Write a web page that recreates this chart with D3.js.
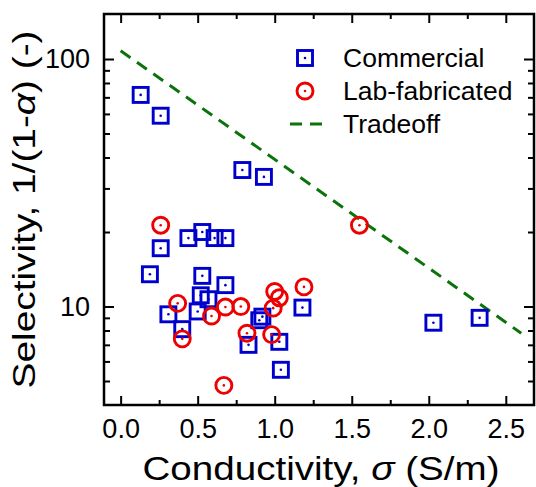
<!DOCTYPE html>
<html>
<head>
<meta charset="utf-8">
<script src="https://cdn.jsdelivr.net/npm/d3@7"></script>
<style>
  body { margin: 0; background: #fff; }
  text { font-family: "Liberation Sans", Arial, sans-serif; fill: #000; }
</style>
</head>
<body>
<div id="chart"></div>
<script>
const width = 536;
const height = 487;
const margin = { top: 14, right: 2, bottom: 82, left: 104 };

// commercial membranes
const commercialX = [0.13, 0.26, 0.79, 0.93, 0.26, 0.19, 0.44, 0.53, 0.61, 0.68, 0.53, 0.68, 0.52, 0.57, 0.50, 0.31, 0.40, 0.90, 0.92, 0.83, 1.03, 1.04, 1.18, 2.03, 2.33];
const commercialY = [71.6, 59.0, 35.6, 33.4, 17.2, 13.5, 18.9, 20.0, 18.9, 18.9, 13.3, 12.2, 11.1, 10.7, 9.55, 9.3, 8.1, 8.8, 9.1, 7.0, 7.2, 5.55, 9.9, 8.6, 9.0];

// lab-fabricated membranes
const labX = [0.26, 0.37, 0.40, 0.59, 0.68, 0.78, 0.82, 0.98, 1.00, 1.03, 0.99, 1.19, 0.67, 1.55];
const labY = [21.3, 10.3, 7.4, 9.15, 9.95, 10.0, 7.8, 7.7, 11.5, 10.85, 9.85, 12.0, 4.8, 21.3];

// tradeoff line (two end points, straight on the log axis)
const tradeoffX = [0, 2.6];
const tradeoffY = [108, 7.8];

const xTicks = [0, 0.5, 1.0, 1.5, 2.0, 2.5];
const yTicks = [10, 100];

const blue = "#0000cc";
const red = "#ee0000";
const green = "#0a730a";

const svg = d3.select("#chart")
    .append("svg")
    .attr("width", width)
    .attr("height", height);

const x = d3.scaleLinear()
    .domain([-0.108, 2.683])
    .range([margin.left, width - margin.right]);

const y = d3.scaleLog()
    .domain([4, 152])
    .range([height - margin.bottom, margin.top]);

const x0 = margin.left, x1 = width - margin.right;
const y0 = height - margin.bottom, y1 = margin.top;

// minor ticks
const xMinor = d3.range(0, 2.7, 0.25).filter(v => xTicks.every(t => Math.abs(t - v) > 1e-6));
const yMinor = [5, 6, 7, 8, 9, 20, 30, 40, 50, 60, 70, 80, 90];

// axes, ticks pointing inward on all four sides
const bottomAxis = d3.axisBottom(x).tickValues(xTicks).tickSize(-9).tickPadding(14)
    .tickFormat(d3.format(".1f"));
const topAxis = d3.axisTop(x).tickValues(xTicks).tickSize(-9).tickFormat("");
const leftAxis = d3.axisLeft(y).tickValues(yTicks).tickSize(-10).tickPadding(14)
    .tickFormat(d3.format("d"));
const rightAxis = d3.axisRight(y).tickValues(yTicks).tickSize(-10).tickFormat("");

svg.append("g").attr("transform", `translate(0,${y0})`).call(bottomAxis);
svg.append("g").attr("transform", `translate(0,${y1})`).call(topAxis);
svg.append("g").attr("transform", `translate(${x0},0)`).call(leftAxis);
svg.append("g").attr("transform", `translate(${x1},0)`).call(rightAxis);

svg.append("g").attr("transform", `translate(0,${y0})`)
    .call(d3.axisBottom(x).tickValues(xMinor).tickSize(-5).tickFormat(""));
svg.append("g").attr("transform", `translate(0,${y1})`)
    .call(d3.axisTop(x).tickValues(xMinor).tickSize(-5).tickFormat(""));
svg.append("g").attr("transform", `translate(${x0},0)`)
    .call(d3.axisLeft(y).tickValues(yMinor).tickSize(-6).tickFormat(""));
svg.append("g").attr("transform", `translate(${x1},0)`)
    .call(d3.axisRight(y).tickValues(yMinor).tickSize(-6).tickFormat(""));

svg.selectAll(".domain").remove();
svg.selectAll(".tick line").attr("stroke", "#000").attr("stroke-width", 2);
svg.selectAll(".tick text")
    .style("font-size", "27px")
    .attr("fill", "#000");

// frame
svg.append("rect")
    .attr("x", x0).attr("y", y1)
    .attr("width", x1 - x0).attr("height", y0 - y1)
    .attr("fill", "none").attr("stroke", "#000").attr("stroke-width", 2.5);

// tradeoff line
const line = d3.line().x(d => x(d[0])).y(d => y(d[1]));
svg.append("path")
    .datum(d3.zip(tradeoffX, tradeoffY))
    .attr("d", line)
    .attr("fill", "none")
    .attr("stroke", green)
    .attr("stroke-width", 3)
    .attr("stroke-dasharray", "12,8");

// markers
const sq = 15;
const sw = 2.9;
const commercial = d3.zip(commercialX, commercialY);
const lab = d3.zip(labX, labY);

const gc = svg.append("g");
gc.selectAll("rect").data(commercial).enter().append("rect")
    .attr("x", d => x(d[0]) - sq / 2)
    .attr("y", d => y(d[1]) - sq / 2)
    .attr("width", sq).attr("height", sq)
    .attr("fill", "none").attr("stroke", blue).attr("stroke-width", sw);
gc.selectAll("circle").data(commercial).enter().append("circle")
    .attr("cx", d => x(d[0])).attr("cy", d => y(d[1]))
    .attr("r", 1.3).attr("fill", blue);

const gLab = svg.append("g");
gLab.selectAll("circle.ring").data(lab).enter().append("circle")
    .attr("class", "ring")
    .attr("cx", d => x(d[0])).attr("cy", d => y(d[1]))
    .attr("r", 8).attr("fill", "none").attr("stroke", red).attr("stroke-width", sw);
gLab.selectAll("circle.dot").data(lab).enter().append("circle")
    .attr("class", "dot")
    .attr("cx", d => x(d[0])).attr("cy", d => y(d[1]))
    .attr("r", 1.3).attr("fill", red);

// legend
const legend = svg.append("g");
const lx = 305, ly = [58, 91, 124];
legend.append("rect")
    .attr("x", lx - sq / 2).attr("y", ly[0] - sq / 2)
    .attr("width", sq).attr("height", sq)
    .attr("fill", "none").attr("stroke", blue).attr("stroke-width", sw);
legend.append("circle").attr("cx", lx).attr("cy", ly[0]).attr("r", 1.3).attr("fill", blue);
legend.append("circle").attr("cx", lx).attr("cy", ly[1]).attr("r", 8)
    .attr("fill", "none").attr("stroke", red).attr("stroke-width", sw);
legend.append("circle").attr("cx", lx).attr("cy", ly[1]).attr("r", 1.3).attr("fill", red);
legend.append("line")
    .attr("x1", 290).attr("x2", 329).attr("y1", ly[2]).attr("y2", ly[2])
    .attr("stroke", green).attr("stroke-width", 3).attr("stroke-dasharray", "12,8");

const legendLabels = ["Commercial", "Lab-fabricated", "Tradeoff"];
legend.selectAll("text.lab").data(legendLabels).enter().append("text")
    .attr("class", "lab")
    .attr("x", 343)
    .attr("y", (d, i) => ly[i] + 9)
    .style("font-size", "26.5px")
    .text(d => d);

// axis titles
const xt = svg.append("text")
    .attr("x", 321).attr("y", 480)
    .attr("text-anchor", "middle")
    .attr("textLength", 357)
    .attr("lengthAdjust", "spacingAndGlyphs")
    .style("font-size", "33px");
xt.append("tspan").text("Conductivity, ");
xt.append("tspan").style("font-style", "italic").text("σ");
xt.append("tspan").text(" (S/m)");

const yt = svg.append("text")
    .attr("transform", `translate(35,${(y0 + y1) / 2}) rotate(-90)`)
    .attr("text-anchor", "middle")
    .attr("textLength", 358)
    .attr("lengthAdjust", "spacingAndGlyphs")
    .style("font-size", "32px");
yt.append("tspan").text("Selectivity,  1/(1-");
yt.append("tspan").style("font-style", "italic").text("α");
yt.append("tspan").text(") (-)");
</script>
</body>
</html>
